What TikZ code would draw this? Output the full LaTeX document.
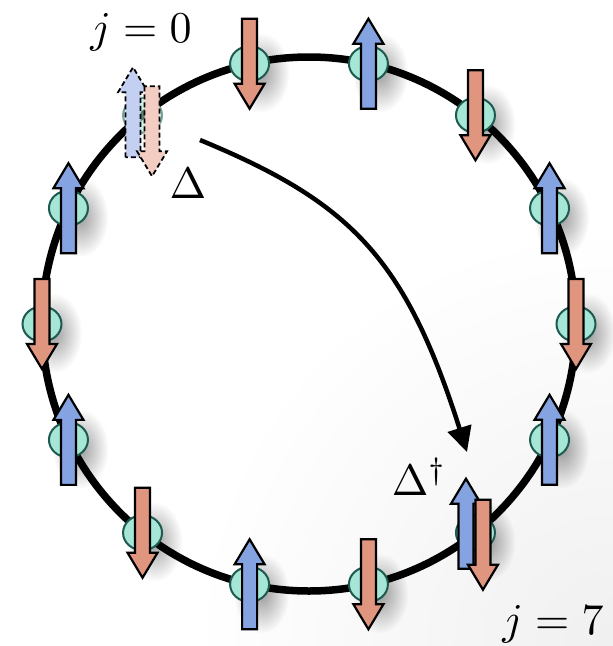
\documentclass[tikz,border=0pt]{standalone}
\usetikzlibrary{arrows.meta,fadings,calc,shapes.geometric}
\definecolor{spinblue}{HTML}{85A3E0}
\definecolor{spinred}{HTML}{E0957F}
\definecolor{ballfill}{HTML}{A6E6D6}
\definecolor{balledge}{HTML}{1E5A50}
\definecolor{lightblue}{HTML}{C3D0F2}
\definecolor{lightred}{HTML}{F3CDC2}
\tikzfading[name=softshadow, inner color=transparent!0, outer color=transparent!100]
\newcommand\spinglyph[3]{% #1 center coordinate, #2 yscale (1 up, -1 down), #3 style
  \begin{scope}[shift={#1}, yscale=#2]
    \draw[#3] (-7.5,45) -- (-7.5,-20) -- (-15,-20) -- (0,-45) -- (15,-20) -- (7.5,-20) -- (7.5,45) -- cycle;
  \end{scope}}
\begin{document}
\begin{tikzpicture}[x=1pt, y=-1pt,
  ball/.style={ellipse, minimum width=39pt, minimum height=35pt, inner sep=0pt, fill=ballfill, draw=balledge, line width=2pt},
  upspin/.style={fill=spinblue, draw=black, line width=2.2pt, line join=miter},
  downspin/.style={fill=spinred, draw=black, line width=2.2pt, line join=miter},
  ghostup/.style={fill=lightblue, draw=black, line width=1.8pt, dash pattern=on 5pt off 3pt, line join=miter},
  ghostdown/.style={fill=lightred, draw=black, line width=1.8pt, dash pattern=on 5pt off 3pt, line join=miter},
  lbl/.style={inner sep=0pt, scale=4.4}]
\useasboundingbox (0,0) rectangle (613,646);
\begin{scope}
  \clip (0,0) rectangle (613,646);
  \fill[white] (0,0) rectangle (613,646);
  \shade[inner color=black!6, outer color=white] (613,646) circle[radius=420];
\end{scope}
% sites
\foreach \k in {0,...,13}{
  \coordinate (s\k) at ({309+267*cos(128.571-25.714*\k)}, {324-267*sin(128.571-25.714*\k)});
}
% shadows
\foreach \k in {1,...,13}{
  \fill[black, opacity=0.38, path fading=softshadow] ($(s\k)+(12,9)$) ellipse [x radius=28, y radius=40];
}
% ring
\draw[line width=7.5pt] (309,324) circle[radius=267];
% curved arrow
\coordinate (cstart) at (200,140);
\coordinate (cend) at (467,452);
\draw[line width=4.5pt, -{Triangle[length=25pt,width=24pt]}] (cstart) .. controls (350,202) and (405,257) .. (cend);
% balls
\node[ball, opacity=0.55] (b0) at (s0) {};
\foreach \k in {1,...,13}{ \node[ball] (b\k) at (s\k) {}; }
% spins
\spinglyph{($(s0)+(-9.5,-3)$)}{1}{ghostup}
\spinglyph{($(s0)+(9.5,16)$)}{-1}{ghostdown}
\foreach \k in {1,3,5,8,10,12}{ \spinglyph{(s\k)}{-1}{downspin} }
\foreach \k in {2,4,6,9,11,13}{ \spinglyph{(s\k)}{1}{upspin} }
\spinglyph{($(s7)+(-9.5,-9)$)}{1}{upspin}
\spinglyph{($(s7)+(7.5,12)$)}{-1}{downspin}
% labels
\node[lbl, anchor=base] (l0) at (141,42) {$j=0$};
\node[lbl, anchor=base] (l7) at (553,634) {$j=7$};
\node[lbl, anchor=base] (ld) at (188,198) {$\Delta$};
\node[lbl, anchor=base west] (ldd) at (391,495) {$\Delta^{\dagger}$};
\end{tikzpicture}
\end{document}
